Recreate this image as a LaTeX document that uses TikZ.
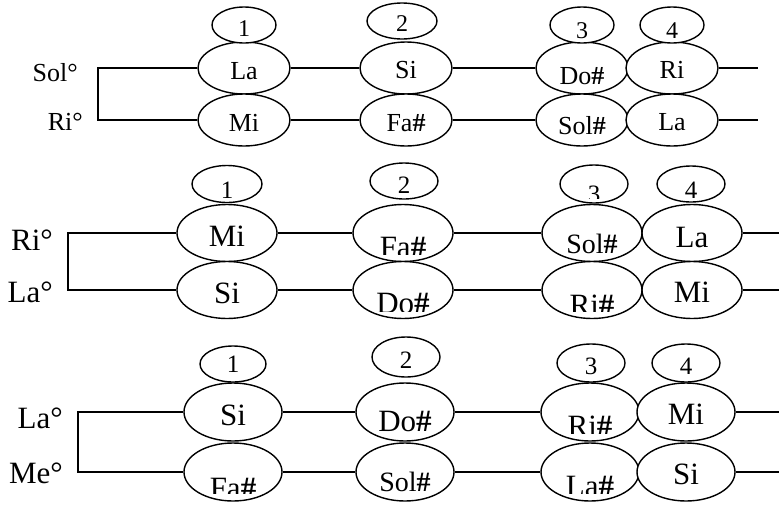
\documentclass[tikz,border=0pt]{standalone}
\usepackage{fontspec}
\setmainfont{Liberation Serif}
\usetikzlibrary{shapes.geometric,calc}
\newcommand\nfA{\fontsize{26pt}{26pt}\selectfont}
\newcommand\nfB{\fontsize{31pt}{31pt}\selectfont}
\newcommand\nfS{\fontsize{28pt}{28pt}\selectfont}
\newcommand\nfN{\fontsize{24pt}{24pt}\selectfont}
\newcommand\nfM{\fontsize{25pt}{25pt}\selectfont}
\newcommand\sh{\textbf{\#}}
\tikzset{
  shp/.style={ellipse, draw, fill=white, inner sep=0pt, line width=1.4pt},
  nt/.style n args={3}{shp, path picture={
      \clip ($(path picture bounding box.south west)!0.13!(path picture bounding box.north east)$) rectangle ($(path picture bounding box.south west)!0.87!(path picture bounding box.north east)$);
      \node[inner sep=0pt, font=#1] at ([yshift=#2]path picture bounding box.center) {#3};}},
  sA/.style={minimum width=92pt, minimum height=52pt},
  sB/.style={minimum width=100pt, minimum height=57pt},
  sC/.style={minimum width=98pt, minimum height=58pt},
  lab/.style={inner sep=0pt, anchor=east},
  ln/.style={line width=1.4pt},
}
\begin{document}
\begin{tikzpicture}[x=1pt, y=-1pt]
\useasboundingbox (0,0) rectangle (779,509);
% ---------- panel 1 ----------
\node[lab, font=\nfA] (t1a) at (78,73) {Sol°};
\node[lab, font=\nfA] (t1b) at (83,122) {Ri°};
\coordinate (k1a) at (98,68);
\coordinate (k1b) at (98,120);
\coordinate (r1a) at (758,68);
\coordinate (r1b) at (758,120);
\node[nt={\nfA}{-3pt}{La}, sA] (p1a1) at (244,68) {};
\node[nt={\nfA}{-3pt}{Mi}, sA] (p1b1) at (244,120) {};
\node[nt={\nfA}{-2pt}{Si}, sA] (p1a2) at (406,68) {};
\node[nt={\nfA}{-3pt}{Fa\sh}, sA] (p1b2) at (406,120) {};
\node[nt={\nfA}{-8pt}{Do\sh}, sA] (p1a3) at (582,68) {};
\node[nt={\nfA}{-6pt}{Sol\sh}, sA] (p1b3) at (582,120) {};
\node[nt={\nfA}{-2pt}{Ri}, sA] (p1a4) at (672,68) {};
\node[nt={\nfA}{-2pt}{La}, sA] (p1b4) at (672,120) {};
\node[nt={\nfN}{-4pt}{1}, minimum width=64pt, minimum height=36pt] (p1n1) at (244,25) {};
\node[nt={\nfN}{-3pt}{2}, minimum width=70pt, minimum height=36pt] (p1n2) at (402,21) {};
\node[nt={\nfN}{-6pt}{3}, minimum width=64pt, minimum height=36pt] (p1n3) at (582,25) {};
\node[nt={\nfN}{-6pt}{4}, minimum width=64pt, minimum height=36pt] (p1n4) at (672,25) {};
\draw[ln] (p1a1) -- (k1a) -- (k1b) -- (p1b1);
\draw[ln] (p1a1) -- (p1a2);
\draw[ln] (p1a2) -- (p1a3);
\draw[ln] (p1a4) -- (r1a);
\draw[ln] (p1b1) -- (p1b2);
\draw[ln] (p1b2) -- (p1b3);
\draw[ln] (p1b4) -- (r1b);
% ---------- panel 2 ----------
\node[lab, font=\nfB] (t2a) at (53,240) {Ri°};
\node[lab, font=\nfB] (t2b) at (53,292) {La°};
\coordinate (k2a) at (68,233);
\coordinate (k2b) at (68,290);
\coordinate (r2a) at (779,233);
\coordinate (r2b) at (779,290);
\node[nt={\nfB}{-3pt}{Mi}, sB] (p2a1) at (227,233) {};
\node[nt={\nfB}{-3pt}{Si}, sB] (p2b1) at (227,290) {};
\node[nt={\nfB}{-14pt}{Fa\sh}, sB] (p2a2) at (403,233) {};
\node[nt={\nfB}{-13pt}{Do\sh}, sB] (p2b2) at (403,290) {};
\node[nt={\nfS}{-11pt}{Sol\sh}, sB] (p2a3) at (592,233) {};
\node[nt={\nfB}{-15pt}{Ri\sh}, sB] (p2b3) at (592,290) {};
\node[nt={\nfB}{-4pt}{La}, sB] (p2a4) at (692,233) {};
\node[nt={\nfB}{-2pt}{Mi}, sB] (p2b4) at (692,290) {};
\node[nt={\nfM}{-6pt}{1}, minimum width=70pt, minimum height=37pt] (p2n1) at (227,184) {};
\node[nt={\nfM}{-4pt}{2}, minimum width=68pt, minimum height=36pt] (p2n2) at (404,181) {};
\node[nt={\nfM}{-10pt}{3}, minimum width=68pt, minimum height=38pt] (p2n3) at (594,184) {};
\node[nt={\nfM}{-6pt}{4}, minimum width=68pt, minimum height=36pt] (p2n4) at (691,184) {};
\draw[ln] (p2a1) -- (k2a) -- (k2b) -- (p2b1);
\draw[ln] (p2a1) -- (p2a2);
\draw[ln] (p2a2) -- (p2a3);
\draw[ln] (p2a4) -- (r2a);
\draw[ln] (p2b1) -- (p2b2);
\draw[ln] (p2b2) -- (p2b3);
\draw[ln] (p2b4) -- (r2b);
% ---------- panel 3 ----------
\node[lab, font=\nfB] (t3a) at (63,418) {La°};
\node[lab, font=\nfB] (t3b) at (63,473) {Me°};
\coordinate (k3a) at (78,412);
\coordinate (k3b) at (78,472);
\coordinate (r3a) at (779,412);
\coordinate (r3b) at (779,472);
\node[nt={\nfB}{-3pt}{Si}, sC] (p3a1) at (233,412) {};
\node[nt={\nfB}{-16pt}{Fa\sh}, sC] (p3b1) at (233,472) {};
\node[nt={\nfB}{-9pt}{Do\sh}, sC] (p3a2) at (405,412) {};
\node[nt={\nfS}{-10pt}{Sol\sh}, sC] (p3b2) at (405,472) {};
\node[nt={\nfB}{-14pt}{Ri\sh}, sC] (p3a3) at (590,412) {};
\node[nt={\nfB}{-14pt}{La\sh}, sC] (p3b3) at (590,472) {};
\node[nt={\nfB}{-2pt}{Mi}, sC] (p3a4) at (686,412) {};
\node[nt={\nfB}{-2pt}{Si}, sC] (p3b4) at (686,472) {};
\node[nt={\nfM}{0pt}{1}, minimum width=66pt, minimum height=36pt] (p3n1) at (233,364) {};
\node[nt={\nfM}{-3pt}{2}, minimum width=68pt, minimum height=40pt] (p3n2) at (406,357) {};
\node[nt={\nfM}{-3pt}{3}, minimum width=68pt, minimum height=38pt] (p3n3) at (591,363) {};
\node[nt={\nfM}{-3pt}{4}, minimum width=68pt, minimum height=38pt] (p3n4) at (686,363) {};
\draw[ln] (p3a1) -- (k3a) -- (k3b) -- (p3b1);
\draw[ln] (p3a1) -- (p3a2);
\draw[ln] (p3a2) -- (p3a3);
\draw[ln] (p3a4) -- (r3a);
\draw[ln] (p3b1) -- (p3b2);
\draw[ln] (p3b2) -- (p3b3);
\draw[ln] (p3b4) -- (r3b);
\end{tikzpicture}
\end{document}
